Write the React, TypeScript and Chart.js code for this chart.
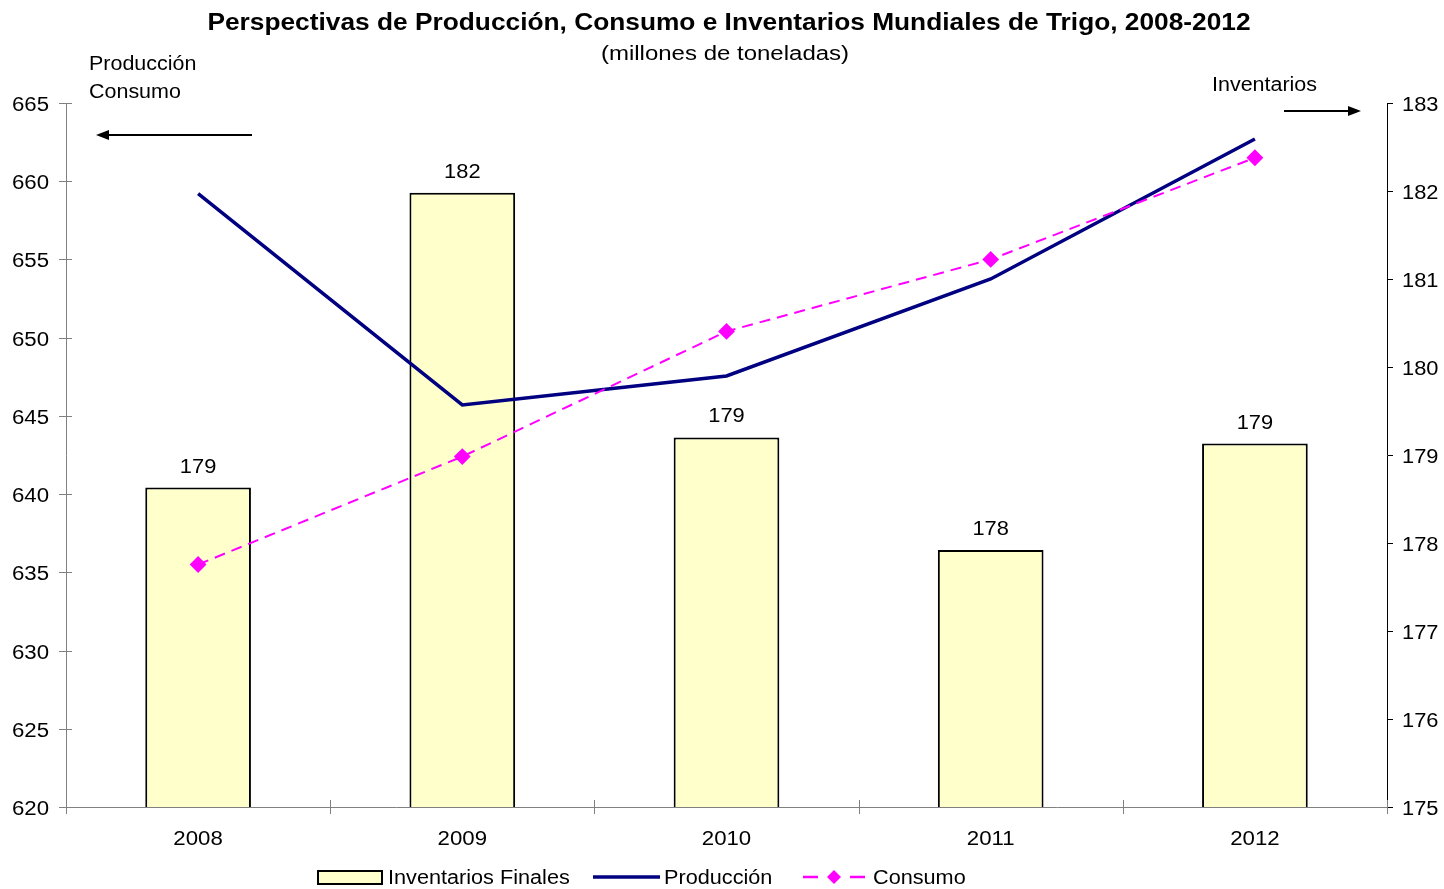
import React, { useEffect, useRef } from "react";
import { Chart, registerables } from "chart.js";
Chart.register(...registerables);

const years = ["2008", "2009", "2010", "2011", "2012"];
const inventarios = [178.63, 181.98, 179.2, 177.92, 179.13];
const inventarioLabels = ["179", "182", "179", "178", "179"];
const produccion = [659.2, 645.7, 647.55, 653.75, 662.7];
const consumo = [635.5, 642.4, 650.4, 655.0, 661.5];
const leftTicks = [620, 625, 630, 635, 640, 645, 650, 655, 660, 665];
const rightTicks = [175, 176, 177, 178, 179, 180, 181, 182, 183];

const FONT = "Arial, 'Liberation Sans', sans-serif";

function txt(
  ctx: CanvasRenderingContext2D,
  s: string,
  x: number,
  y: number,
  font: string,
  align: CanvasTextAlign,
  sx: number
) {
  ctx.save();
  ctx.translate(x, y + 1.5);
  ctx.scale(sx, 1);
  ctx.font = font;
  ctx.fillStyle = "#000";
  ctx.textAlign = align;
  ctx.textBaseline = "middle";
  ctx.fillText(s, 0, 0);
  ctx.restore();
}

function arrow(ctx: CanvasRenderingContext2D, x1: number, x2: number, y: number) {
  const dir = x2 > x1 ? 1 : -1;
  ctx.save();
  ctx.strokeStyle = "#000";
  ctx.fillStyle = "#000";
  ctx.lineWidth = 2;
  ctx.beginPath();
  ctx.moveTo(x1, y);
  ctx.lineTo(x2 - dir * 10, y);
  ctx.stroke();
  ctx.beginPath();
  ctx.moveTo(x2, y);
  ctx.lineTo(x2 - dir * 13, y - 5);
  ctx.lineTo(x2 - dir * 13, y + 5);
  ctx.closePath();
  ctx.fill();
  ctx.restore();
}

const REG = `20px ${FONT}`;
const K = 19 / 20;

const overlay = {
  id: "overlay",
  afterDraw(chart: any) {
    const ctx: CanvasRenderingContext2D = chart.ctx;
    const ca = chart.chartArea;
    const x = chart.scales.x;
    const yl = chart.scales.y;
    const yr = chart.scales.y1;
    ctx.save();
    ctx.strokeStyle = "#808080";
    ctx.lineWidth = 1;
    leftTicks.forEach((v) => {
      const py = Math.round(yl.getPixelForValue(v)) + 0.5;
      ctx.beginPath();
      ctx.moveTo(ca.left - 7, py);
      ctx.lineTo(ca.left + 6, py);
      ctx.stroke();
      txt(ctx, String(v), 49, py, REG, "right", 1.17 * K);
    });
    rightTicks.forEach((v) => {
      const py = Math.round(yr.getPixelForValue(v)) + 0.5;
      txt(ctx, String(v), 1402, py, REG, "left", 1.15 * K);
    });
    const step = x.getPixelForValue(1) - x.getPixelForValue(0);
    for (let i = 0; i <= years.length; i++) {
      const px = Math.round(x.getPixelForValue(i) - step / 2) + 0.5;
      ctx.beginPath();
      ctx.moveTo(px, ca.bottom - 7);
      ctx.lineTo(px, ca.bottom + 7);
      ctx.stroke();
    }
    years.forEach((yv, i) => {
      txt(ctx, yv, x.getPixelForValue(i), 838, REG, "center", 1.17 * K);
    });
    const meta = chart.getDatasetMeta(0);
    meta.data.forEach((bar: any, i: number) => {
      txt(ctx, inventarioLabels[i], bar.x, bar.y - 22, REG, "center", 1.15 * K);
    });
    txt(ctx, "Perspectivas de Producción, Consumo e Inventarios Mundiales de Trigo, 2008-2012", 729, 22, `bold 23px ${FONT}`, "center", 1.143);
    txt(ctx, "(millones de toneladas)", 725, 53, `20px ${FONT}`, "center", 1.2);
    txt(ctx, "Producción", 89, 63, REG, "left", 1.13 * K);
    txt(ctx, "Consumo", 89, 91, REG, "left", 1.13 * K);
    txt(ctx, "Inventarios", 1212, 84, REG, "left", 1.13 * K);
    arrow(ctx, 252, 96, 135);
    arrow(ctx, 1284, 1361, 111);
    // legend
    const ly = 877;
    ctx.fillStyle = "#FFFFCC";
    ctx.fillRect(318, ly - 6, 64, 13);
    ctx.strokeStyle = "#000";
    ctx.lineWidth = 2;
    ctx.strokeRect(318, ly - 6, 64, 13);
    txt(ctx, "Inventarios Finales", 388, ly, REG, "left", 1.14 * K);
    ctx.strokeStyle = "#000080";
    ctx.lineWidth = 3.5;
    ctx.beginPath();
    ctx.moveTo(593, ly);
    ctx.lineTo(660, ly);
    ctx.stroke();
    txt(ctx, "Producción", 664, ly, REG, "left", 1.14 * K);
    ctx.strokeStyle = "#FF00FF";
    ctx.lineWidth = 2.5;
    ctx.beginPath();
    ctx.moveTo(803, ly);
    ctx.lineTo(818, ly);
    ctx.moveTo(850, ly);
    ctx.lineTo(865, ly);
    ctx.stroke();
    ctx.fillStyle = "#FF00FF";
    ctx.beginPath();
    ctx.moveTo(834, ly - 7);
    ctx.lineTo(841, ly);
    ctx.lineTo(834, ly + 7);
    ctx.lineTo(827, ly);
    ctx.closePath();
    ctx.fill();
    txt(ctx, "Consumo", 873, ly, REG, "left", 1.14 * K);
    ctx.restore();
  },
};

export default function App() {
  const ref = useRef<HTMLCanvasElement>(null);
  useEffect(() => {
    if (!ref.current) return;
    const chart = new Chart(ref.current, {
      type: "bar",
      data: {
        labels: years,
        datasets: [
          {
            type: "bar",
            label: "Inventarios Finales",
            data: inventarios,
            yAxisID: "y1",
            backgroundColor: "#FFFFCC",
            borderColor: "#000",
            borderWidth: 2,
            barPercentage: 0.4,
            categoryPercentage: 1,
            order: 3,
          } as any,
          {
            type: "line",
            label: "Producción",
            data: produccion,
            yAxisID: "y",
            borderColor: "#000080",
            borderWidth: 3.5,
            pointRadius: 0,
            tension: 0,
            order: 2,
          },
          {
            type: "line",
            label: "Consumo",
            data: consumo,
            yAxisID: "y",
            borderColor: "#FF00FF",
            borderWidth: 2,
            borderDash: [11, 7],
            pointStyle: "rectRot",
            pointRadius: 7,
            pointBackgroundColor: "#FF00FF",
            pointBorderColor: "#FF00FF",
            tension: 0,
            order: 1,
          },
        ],
      },
      options: {
        animation: false,
        responsive: false,
        maintainAspectRatio: false,
        layout: { padding: { top: 103, left: 0, right: 0, bottom: 0 } },
        plugins: { legend: { display: false }, tooltip: { enabled: false }, title: { display: false } },
        scales: {
          x: {
            grid: { display: false, drawTicks: false },
            border: { display: true, color: "#808080", width: 1 },
            ticks: { display: false },
            afterFit: (s: any) => { s.height = 82; },
          },
          y: {
            position: "left",
            min: 620,
            max: 665,
            afterBuildTicks: (s: any) => { s.ticks = leftTicks.map((v) => ({ value: v })); },
            grid: { display: false, drawTicks: false },
            border: { display: true, color: "#808080", width: 1 },
            ticks: { display: false },
            afterFit: (s: any) => { s.width = 66; },
          },
          y1: {
            position: "right",
            min: 175,
            max: 183,
            afterBuildTicks: (s: any) => { s.ticks = rightTicks.map((v) => ({ value: v })); },
            grid: { display: true, drawOnChartArea: false, drawTicks: true, tickLength: 6, color: "#000" },
            border: { display: true, color: "#000", width: 1 },
            ticks: { display: false },
            afterFit: (s: any) => { s.width = 57; },
          },
        },
      },
      plugins: [overlay],
    });
    return () => chart.destroy();
  }, []);
  return (
    <div style={{ position: "fixed", left: 0, top: 0, width: 1444, height: 889, background: "#fff" }}>
      <canvas ref={ref} width={1444} height={889} style={{ width: 1444, height: 889 }} />
    </div>
  );
}
